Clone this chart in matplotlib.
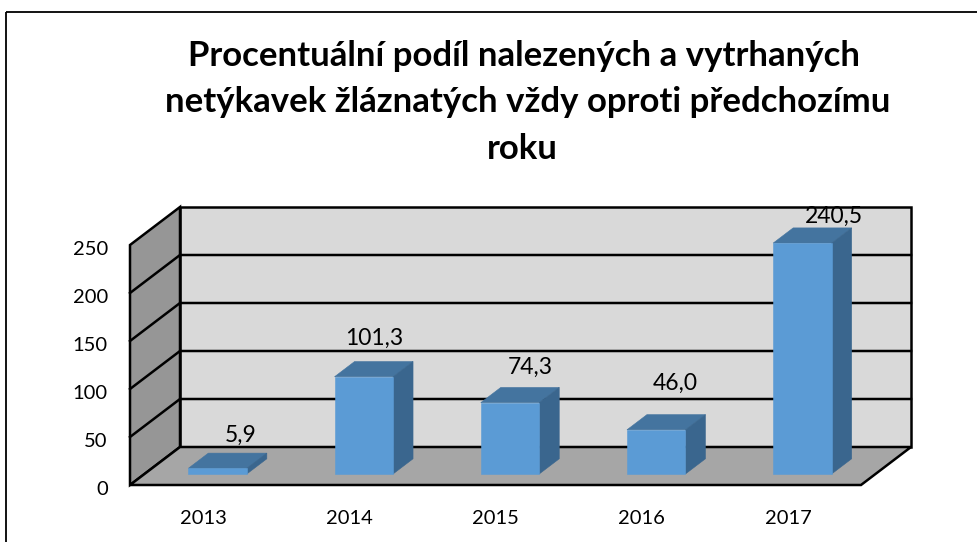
import matplotlib
matplotlib.use("Agg")
import matplotlib.pyplot as plt
from matplotlib.patches import Polygon
from matplotlib.transforms import ScaledTranslation

plt.rcParams['font.family'] = ['Lato', 'DejaVu Sans']

W, H = 977, 542
title_lines = ["Procentuální podíl nalezených a vytrhaných",
               "netýkavek žláznatých vždy oproti předchozímu",
               "roku"]
years = ['2013', '2014', '2015', '2016', '2017']
values = [5.9, 101.3, 74.3, 46.0, 240.5]
value_labels = ['5,9', '101,3', '74,3', '46,0', '240,5']
yticks = [0, 50, 100, 150, 200, 250]
# manual nudges of the data labels, in points
label_dx = [2.0, -6.8, 0.4, -0.4, 8.3]
label_dy = [5.0, 9.3, 7.1, 15.0, 0.6]
# title line placement, in pixels
title_cx = [524, 528, 522.5]
title_base = [66, 112, 159]

fig = plt.figure(figsize=(W / 100, H / 100), dpi=100, facecolor='white')

# frame
fa = fig.add_axes([0, 0, 1, 1], zorder=0)
fa.set_xlim(0, W); fa.set_ylim(H, 0); fa.axis('off')
fa.plot([6, 6], [H, 12], color='black', lw=1.3, solid_capstyle='butt')
fa.plot([6, W], [12, 12], color='black', lw=1.3, solid_capstyle='butt')

# value-axis plane: front plane of the oblique 3D box
L, R, T, B = 130, 861, 245, 485
ax = fig.add_axes([L / W, 1 - B / H, (R - L) / W, (B - T) / H], zorder=1)
ax.set_xlim(0, 5); ax.set_ylim(0, 250)
ax.patch.set_visible(False)
for s in ax.spines.values():
    s.set_visible(False)

DX = 50 / ((R - L) / 5)          # depth shift, categories
DY = 38 / ((B - T) / 250)        # depth shift, value units
def P(x, y, d=0.0):
    return (x + d * DX, y + d * DY)

EDGE = dict(edgecolor='black', linewidth=1.8, joinstyle='miter')
def poly(pts, z, **kw):
    ax.add_patch(Polygon(pts, closed=True, zorder=z, clip_on=False, **kw))

# walls and floor
poly([P(0, 0, 1), P(5, 0, 1), P(5, 250, 1), P(0, 250, 1)], 1, facecolor='#d9d9d9', **EDGE)
poly([P(0, 0), P(0, 250), P(0, 250, 1), P(0, 0, 1)], 1, facecolor='#969696', **EDGE)
poly([P(0, 0), P(5, 0), P(5, 0, 1), P(0, 0, 1)], 1, facecolor='#a6a6a6', **EDGE)

# gridlines
for t in yticks[1:-1]:
    xs, ys = zip(P(0, t), P(0, t, 1), P(5, t, 1))
    ax.plot(xs, ys, color='black', lw=1.8, zorder=2, clip_on=False, solid_joinstyle='miter')

# bars
BW = 0.4
D0, D1 = 0.29, 0.69
for i, (v, lab) in enumerate(zip(values, value_labels)):
    cx = i + 0.5
    x0, x1 = cx - BW / 2, cx + BW / 2
    poly([P(x0, v, D0), P(x1, v, D0), P(x1, v, D1), P(x0, v, D1)], 3,
         facecolor='#44749f', edgecolor='#44749f', linewidth=0.4)
    poly([P(x1, 0, D0), P(x1, v, D0), P(x1, v, D1), P(x1, 0, D1)], 3,
         facecolor='#3a668e', edgecolor='#3a668e', linewidth=0.4)
    poly([P(x0, 0, D0), P(x1, 0, D0), P(x1, v, D0), P(x0, v, D0)], 4,
         facecolor='#5b9bd5', edgecolor='#5b9bd5', linewidth=0.4)
    lx, ly = P(cx, v, D1)
    ax.annotate(lab, (lx, ly), xytext=(label_dx[i], label_dy[i]), textcoords='offset points',
                ha='center', va='bottom', fontsize=16.5, color='black', zorder=5, annotation_clip=False)

# axes labels
ax.set_yticks(yticks)
ax.set_xticks([i + 0.5 for i in range(5)])
ax.set_xticklabels(years)
ax.tick_params(axis='both', length=0, labelsize=14.5, colors='black')
ax.tick_params(axis='y', pad=16)
ax.tick_params(axis='x', pad=18)
shift = ScaledTranslation(0, -2 / 72, fig.dpi_scale_trans)
for tl in ax.get_yticklabels():
    tl.set_transform(tl.get_transform() + shift)

for line, cx, base in zip(title_lines, title_cx, title_base):
    fig.text(cx / W, 1 - base / H, line, ha='center', va='baseline', fontsize=25,
             fontweight='bold', color='black')

fig.savefig('out.png', dpi=100, facecolor='white')
